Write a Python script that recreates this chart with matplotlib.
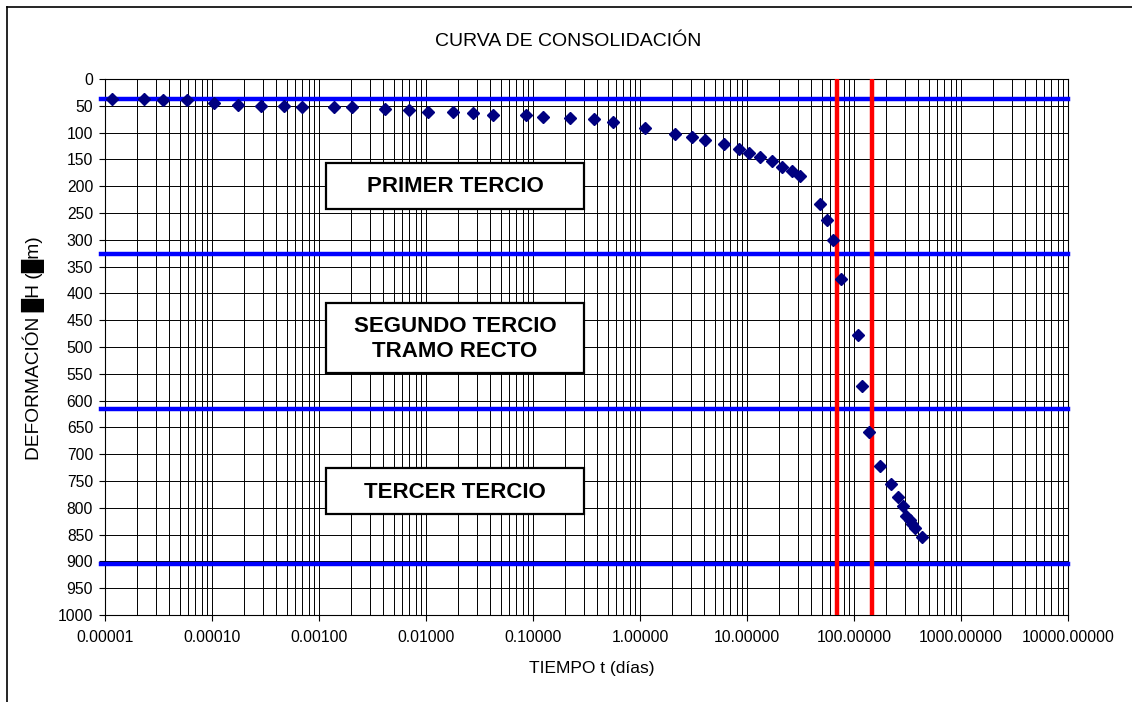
import matplotlib
matplotlib.use('Agg')
import matplotlib.pyplot as plt
from matplotlib.patches import Rectangle
from matplotlib.lines import Line2D
from matplotlib.ticker import LogLocator, FixedLocator, FuncFormatter, NullFormatter

plt.rcParams['font.family'] = ['Liberation Sans', 'DejaVu Sans']

# ---------------- data ----------------
tiempo_dias = [1.16e-5, 2.31e-5, 3.5e-5, 5.8e-5, 1.04e-4, 1.74e-4, 2.89e-4, 4.7e-4,
               6.98e-4, 1.38e-3, 2.04e-3, 4.17e-3, 6.98e-3, 0.0105, 0.0178, 0.0277,
               0.042, 0.0855, 0.125, 0.222, 0.374, 0.562, 1.107, 2.11, 3.08, 4.07,
               6.05, 8.36, 10.4, 13.1, 17.0, 21.1, 26.3, 31.2, 48.4, 55.5, 63.1,
               75.9, 108, 120, 139, 175, 220, 256, 285, 308, 334, 351, 369, 432]
deformacion = [36.8, 36.8, 39.2, 39.2, 44.8, 48.5, 50.4, 50.4, 53, 53, 53, 56, 58.6,
               61, 61, 64.2, 66.6, 66.6, 70.3, 72.8, 75.4, 80.2, 91.4, 102.6, 108.2,
               113.8, 122, 130.6, 138.8, 145, 152.4, 163.6, 172.4, 181, 233.2, 263.8,
               300.4, 372.6, 478.4, 572.8, 658, 722, 755, 780, 797.4, 816, 823.5, 830,
               838, 854.5]
tercios = [37, 326, 615, 905]          # horizontal blue lines
tiempos_rojos = [69, 146]              # vertical red lines
x_ticks = [1e-5, 1e-4, 1e-3, 1e-2, 1e-1, 1, 10, 100, 1000, 10000]
y_ticks = list(range(0, 1001, 50))
etiquetas = ['PRIMER TERCIO', 'SEGUNDO TERCIO\nTRAMO RECTO', 'TERCER TERCIO']

titulo = 'CURVA DE CONSOLIDACIÓN'
x_label = 'TIEMPO t (días)'
y_label = 'DEFORMACIÓN \u2588H (\u2588m)'

# ---------------- figure ----------------
W, H = 1132, 702
fig = plt.figure(figsize=(W / 100, H / 100), dpi=100)


def fx(px):
    return px / W


def fy(py):
    return 1 - py / H


ax = fig.add_axes([fx(105), fy(615), (1068 - 105) / W, (615 - 79) / H])
ax.set_xscale('log')
ax.set_xlim(1e-5, 1e4)
ax.set_ylim(1000, 0)

ax.xaxis.set_major_locator(FixedLocator(x_ticks))
ax.xaxis.set_minor_locator(LogLocator(base=10, subs=range(2, 10), numticks=100))
ax.xaxis.set_major_formatter(FuncFormatter(lambda v, p: f'{v:.5f}'))
ax.xaxis.set_minor_formatter(NullFormatter())
ax.yaxis.set_major_locator(FixedLocator(y_ticks))

ax.grid(which='both', axis='x', color='black', lw=0.7, zorder=1)
ax.grid(which='major', axis='y', color='black', lw=0.7, zorder=1)
ax.set_axisbelow(True)

ax.tick_params(axis='both', which='major', direction='out', length=4, width=0.8,
               labelsize=11.3, colors='black')
ax.tick_params(axis='x', which='major', pad=7)
ax.tick_params(axis='y', which='major', pad=4.5)
ax.tick_params(axis='x', which='minor', length=0)
for s in ax.spines.values():
    s.set_linewidth(0.8)
    s.set_color('black')

for v in tercios:
    ax.axhline(v, xmin=-0.004, xmax=1.0, color='#0000FF', lw=3.2, zorder=3,
               clip_on=False)
for t in tiempos_rojos:
    ax.axvline(t, color='#FF0000', lw=3.2, zorder=4)

ax.plot(tiempo_dias, deformacion, linestyle='none', marker='D', markersize=6.5,
        color='#000080', markeredgecolor='#000080', zorder=6, clip_on=False)

# text boxes (pixel layout)
boxes = [(326, 163, 584, 209), (326, 303, 584, 373), (326, 468, 584, 514)]
for (x0, y0, x1, y1), txt in zip(boxes, etiquetas):
    ax.add_patch(Rectangle((fx(x0), fy(y1)), fx(x1) - fx(x0), fy(y0) - fy(y1),
                           transform=fig.transFigure, facecolor='white',
                           edgecolor='black', lw=1.6, zorder=7, clip_on=False))
    ax.text(fx((x0 + x1) / 2), fy((y0 + y1) / 2 + 1), txt, transform=fig.transFigure,
            ha='center', va='center', fontsize=16, fontweight='bold',
            linespacing=1.2, zorder=8)

fig.text(fx(568), fy(42), titulo, ha='center', va='center', fontsize=14)
fig.text(fx(592), fy(668), x_label, ha='center', va='center', fontsize=12.5)
fig.text(fx(33), fy(348), y_label, ha='center', va='center', fontsize=13.8,
         rotation=90)

# chart-area border (left and top visible)
fig.add_artist(Line2D([fx(7), fx(7)], [fy(7), 0], transform=fig.transFigure,
                      color='black', lw=1.2))
fig.add_artist(Line2D([fx(7), 1], [fy(7), fy(7)], transform=fig.transFigure,
                      color='black', lw=1.2))

fig.savefig('out.png', dpi=100)
